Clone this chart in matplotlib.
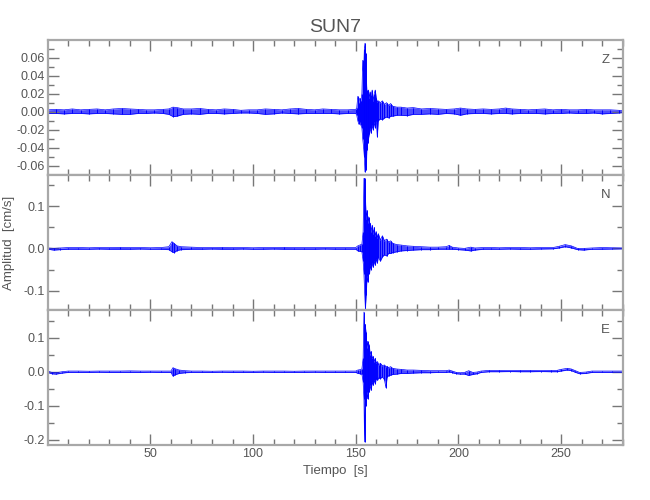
"""
SUN7 three-component velocity record (Z, N, E). The trace is drawn from
envelope readings (upper / lower amplitude at a set of times) taken off
the reference picture.
"""
import matplotlib

matplotlib.use("Agg")
import matplotlib.pyplot as plt  # noqa: E402
import numpy as np  # noqa: E402
from matplotlib.ticker import MultipleLocator, FormatStrFormatter  # noqa: E402

plt.rcParams["font.family"] = ["Liberation Sans", "DejaVu Sans"]

STATION = "SUN7"
COMPONENTS = ["Z", "N", "E"]

# ---- Z component: times [s], upper and lower envelope [cm/s] ----
z_t = [0, 4, 8, 12, 16, 20, 24, 28, 32, 36, 40, 44, 48, 52, 56, 59, 61, 63, 66,
       70, 74, 78, 82, 86, 90, 94, 98, 102, 106, 110, 114, 118, 122, 126, 130,
       134, 138, 142, 146, 150, 150.5, 151.0, 151.5, 152.0, 152.5, 153.0, 153.4,
       153.8, 154.2, 154.5, 154.8, 155.1, 155.4, 155.8, 156.2, 156.6, 157.0,
       157.5, 158.0, 158.5, 159.0, 159.5, 160.0, 160.5, 161.0, 162.0, 163.0,
       164.0, 165.0, 166.0, 167.0, 168.0, 170.0, 172, 175, 178, 182, 186, 190,
       194, 198, 201, 204, 208, 212, 216, 220, 223, 226, 230, 234, 238, 242,
       246, 250, 254, 258, 262, 266, 270, 274, 278, 280]
z_hi = [0.002, 0.0025, 0.002, 0.003, 0.002, 0.0025, 0.003, 0.002, 0.003, 0.0035,
        0.003, 0.0025, 0.002, 0.002, 0.0025, 0.003, 0.005, 0.0045, 0.003,
        0.003, 0.0035, 0.0025, 0.002, 0.003, 0.0025, 0.0015, 0.002, 0.002,
        0.003, 0.0025, 0.002, 0.003, 0.0035, 0.0025, 0.002,
        0.003, 0.0025, 0.002, 0.002, 0.0025, 0.004, 0.017, 0.010, 0.015, 0.012,
        0.020, 0.057, 0.040, 0.070, 0.076, 0.065, 0.040, 0.024, 0.020, 0.024,
        0.015, 0.022, 0.018, 0.024, 0.012, 0.020, 0.024, 0.015, 0.011, 0.012,
        0.010, 0.012, 0.008, 0.010, 0.007, 0.009, 0.006, 0.005, 0.005, 0.004,
        0.0045, 0.003, 0.0035, 0.003, 0.0025, 0.003, 0.004, 0.003, 0.0025,
        0.003, 0.0025, 0.003, 0.004, 0.003, 0.0025, 0.002, 0.0025, 0.003,
        0.002, 0.0025, 0.002, 0.002, 0.0025, 0.002, 0.002, 0.002, 0.0015, 0.001]
z_lo = [-0.002, -0.002, -0.0025, -0.002, -0.002, -0.0025, -0.002, -0.002,
        -0.0025, -0.003, -0.003, -0.002, -0.002, -0.0015, -0.002, -0.003,
        -0.0055, -0.005, -0.003, -0.0025, -0.003, -0.002, -0.002, -0.0025,
        -0.002, -0.0015, -0.0015, -0.002, -0.003, -0.0025, -0.0015, -0.002,
        -0.0025, -0.002, -0.002, -0.002, -0.002, -0.0025, -0.002, -0.002,
        -0.004, -0.010, -0.014, -0.012, -0.015, -0.018, -0.030, -0.039, -0.050,
        -0.067, -0.055, -0.065, -0.043, -0.035, -0.030, -0.025, -0.018, -0.024,
        -0.015, -0.020, -0.012, -0.018, -0.010, -0.028, -0.010, -0.008, -0.009,
        -0.007, -0.006, -0.007, -0.005, -0.005, -0.004, -0.004, -0.0045,
        -0.003, -0.003, -0.0025, -0.003, -0.002, -0.0025, -0.004, -0.0025,
        -0.002, -0.002, -0.0025, -0.002, -0.002, -0.0025, -0.002, -0.002,
        -0.002, -0.0025, -0.002, -0.002, -0.0015, -0.002, -0.002, -0.0015,
        -0.0025, -0.002, -0.0015, -0.001]

# ---- N component ----
n_t = [0, 3, 6, 10, 15, 20, 25, 30, 35, 40, 45, 50, 55, 59, 60.5, 61.5, 63, 65,
       70, 75, 80, 85, 90, 95, 100, 105, 110, 115, 120, 125, 130, 135, 140, 145,
       150, 151, 152, 153, 153.6, 154.0, 154.3, 154.7, 155.1, 155.5, 155.9,
       156.3, 156.7, 157.1, 157.5, 158.0, 158.5, 159.0, 159.5, 160.0, 160.5,
       161.0, 162.0, 163.0, 164.0, 165.0, 166.0, 167.0, 168.0, 170.0, 172, 175,
       178, 182, 186, 190, 194, 195.5, 197, 200, 203, 206, 208, 212, 216, 220,
       225, 230, 235, 240, 246, 249, 252, 255, 258, 261, 265, 270, 275, 280]
n_hi = [0.001, 0.0, 0.001, 0.002, 0.002, 0.0015, 0.002, 0.002, 0.0025, 0.002,
        0.002, 0.0015, 0.002, 0.004, 0.016, 0.012, 0.006, 0.004,
        0.003, 0.002, 0.002, 0.0025, 0.002, 0.002, 0.0015, 0.002, 0.002, 0.0025,
        0.002, 0.002, 0.002, 0.002, 0.002, 0.002,
        0.002, 0.006, 0.008, 0.010, 0.040, 0.166, 0.166, 0.120, 0.070, 0.090,
        0.060, 0.075, 0.050, 0.060, 0.040, 0.055, 0.035, 0.050, 0.030, 0.040,
        0.025, 0.035, 0.020, 0.030, 0.018, 0.022, 0.015, 0.018, 0.012, 0.009,
        0.008, 0.006, 0.005, 0.004, 0.003, 0.003, 0.004, 0.007, 0.003, 0.001,
        0.0, 0.003, 0.001, 0.002, 0.002, 0.0015, 0.002, 0.002, 0.0015, 0.002,
        0.002, 0.005, 0.009, 0.006, 0.0, 0.0, 0.001, 0.002, 0.0015, 0.001]
n_lo = [-0.002, -0.004, -0.003, -0.002, -0.002, -0.002, -0.0015, -0.002,
        -0.002, -0.002, -0.0015, -0.002, -0.002, -0.003, -0.008, -0.010,
        -0.005, -0.003, -0.002, -0.002, -0.0015, -0.002, -0.002, -0.0015,
        -0.002, -0.002, -0.0015, -0.002, -0.002, -0.002, -0.002, -0.0015,
        -0.002, -0.002,
        -0.002, -0.006, -0.007, -0.008, -0.030, -0.060, -0.100, -0.143, -0.110,
        -0.066, -0.080, -0.050, -0.060, -0.040, -0.050, -0.035, -0.045, -0.030,
        -0.040, -0.025, -0.035, -0.020, -0.030, -0.020, -0.015, -0.018, -0.012,
        -0.012, -0.010, -0.008, -0.006, -0.005, -0.004, -0.003, -0.003, -0.002,
        -0.002, -0.002, -0.002, -0.003, -0.004, -0.006, -0.004, -0.002, -0.002,
        -0.002, -0.0015, -0.002, -0.002, -0.0015, -0.001, 0.001, 0.004, 0.001,
        -0.003, -0.004, -0.002, -0.002, -0.0015, -0.001]

# ---- E component ----
e_t = [0, 2, 4, 7, 10, 15, 20, 25, 30, 35, 40, 45, 50, 55, 60, 61, 62, 64, 67,
       70, 75, 80, 85, 90, 95, 100, 105, 110, 115, 120, 125, 130, 135, 140, 145,
       150, 151, 152, 153, 153.6, 154.0, 154.3, 154.6, 155.0, 155.4, 155.8,
       156.2, 156.6, 157.0, 157.5, 158.0, 158.5, 159.0, 159.5, 160.0, 160.6,
       161.2, 162.0, 163.0, 164.0, 164.7, 165.3, 166.0, 167.0, 168.0, 170.0,
       172, 175, 178, 182, 186, 190, 194, 195.5, 197, 199, 201, 203, 205, 207,
       209, 211, 215, 220, 225, 230, 235, 240, 245, 248, 250, 253, 255, 257,
       259, 262, 265, 270, 275, 280]
e_hi = [0.002, -0.002, -0.003, 0.0, 0.002, 0.002, 0.0015, 0.002, 0.002, 0.002,
        0.0025, 0.002, 0.002, 0.002, 0.002, 0.012, 0.009, 0.005, 0.003,
        0.002, 0.002, 0.0015, 0.002, 0.002, 0.002, 0.0015, 0.002, 0.002, 0.002,
        0.0015, 0.002, 0.002, 0.002, 0.002, 0.002,
        0.002, 0.005, 0.006, 0.008, 0.040, 0.176, 0.120, 0.140, 0.116, 0.070,
        0.090, 0.060, 0.080, 0.050, 0.060, 0.040, 0.045, 0.030, 0.040, 0.025,
        0.030, 0.020, 0.025, 0.018, 0.020, 0.015, 0.016, 0.012, 0.015, 0.010,
        0.008, 0.007, 0.005, 0.005, 0.004, 0.003, 0.003, 0.003, 0.005, 0.002,
        -0.002, -0.003, -0.002, 0.003, -0.002, -0.001, 0.002, 0.004, 0.004,
        0.0035, 0.004, 0.004, 0.0035, 0.004, 0.004, 0.007, 0.010, 0.008, 0.003,
        -0.002, -0.001, 0.002, 0.002, 0.002, 0.002]
e_lo = [-0.002, -0.006, -0.007, -0.004, -0.002, -0.002, -0.002, -0.0015,
        -0.002, -0.002, -0.002, -0.002, -0.0015, -0.002, -0.002, -0.013, -0.009,
        -0.005, -0.003, -0.002, -0.002, -0.002, -0.0015, -0.002, -0.002,
        -0.002, -0.0015, -0.002, -0.002, -0.002, -0.002, -0.0015, -0.002,
        -0.002, -0.002,
        -0.002, -0.005, -0.006, -0.007, -0.030, -0.080, -0.207, -0.060, -0.100,
        -0.060, -0.080, -0.050, -0.060, -0.040, -0.055, -0.030, -0.040, -0.025,
        -0.035, -0.020, -0.025, -0.018, -0.020, -0.015, -0.024, -0.047, -0.015,
        -0.012, -0.010, -0.008, -0.007, -0.005, -0.005, -0.004, -0.003, -0.003,
        -0.002, -0.002, -0.001, -0.003, -0.006, -0.007, -0.007, -0.011, -0.008,
        -0.006, -0.002, 0.0, 0.0, 0.0005, 0.0, 0.0, 0.0005, 0.0, 0.0, 0.002,
        0.005, 0.003, -0.002, -0.006, -0.005, -0.002, -0.002, -0.002, -0.002]

# y limits and tick steps of each panel (major, minor)
Y_LIMS = [(-0.0704, 0.0796), (-0.146, 0.174), (-0.216, 0.182)]
Y_STEPS = [(0.02, 0.01), (0.1, 0.05), (0.1, 0.05)]
Y_FMT = ["%.2f", "%.1f", "%.1f"]

TRACE = "#0000ff"
GREY_TXT = "#555555"
GREY_AX = "#a8a8a8"


def draw_trace(ax, t, hi, lo):
    t, hi, lo = np.asarray(t), np.asarray(hi), np.asarray(lo)
    ax.fill_between(t, lo, hi, color=TRACE, alpha=0.7, lw=0)
    # a stroke at every reading gives the striated look of the wiggle trace
    ax.vlines(t, lo, hi, color=TRACE, lw=0.7)
    ax.plot(t, hi, color=TRACE, lw=0.5)
    ax.plot(t, lo, color=TRACE, lw=0.5)


fig, axes = plt.subplots(3, 1, figsize=(6.5, 5), dpi=100, sharex=True)
fig.subplots_adjust(left=0.074, right=0.958, top=0.92, bottom=0.11, hspace=0)

series = [(z_t, z_hi, z_lo), (n_t, n_hi, n_lo), (e_t, e_hi, e_lo)]
for i, ax in enumerate(axes):
    draw_trace(ax, *series[i])
    ax.set_xlim(0.2, 280)
    ax.set_ylim(*Y_LIMS[i])
    ax.yaxis.set_major_locator(MultipleLocator(Y_STEPS[i][0]))
    ax.yaxis.set_minor_locator(MultipleLocator(Y_STEPS[i][1]))
    ax.yaxis.set_major_formatter(FormatStrFormatter(Y_FMT[i]))
    ax.xaxis.set_major_locator(MultipleLocator(50))
    ax.xaxis.set_minor_locator(MultipleLocator(10))
    ax.tick_params(which="both", direction="in", top=True, right=True,
                   color="#777777", width=1, labelsize=9, labelcolor=GREY_TXT,
                   pad=2.5)
    ax.tick_params(which="major", length=8)
    ax.tick_params(which="minor", length=4.5)
    for sp in ax.spines.values():
        sp.set_color(GREY_AX)
        sp.set_linewidth(1.6)
    ax.text(0.97, 0.85, COMPONENTS[i], transform=ax.transAxes, ha="center",
            va="center", fontsize=9.5, color=GREY_TXT)

axes[0].set_title(STATION, fontsize=14, color=GREY_TXT, pad=6)
axes[1].set_ylabel("Amplitud  [cm/s]", fontsize=9.5, color=GREY_TXT)
axes[1].yaxis.set_label_coords(-0.058, 0.5)
axes[2].set_xlabel("Tiempo  [s]", fontsize=9.5, color=GREY_TXT, labelpad=3)

fig.savefig("out.png", dpi=100)
